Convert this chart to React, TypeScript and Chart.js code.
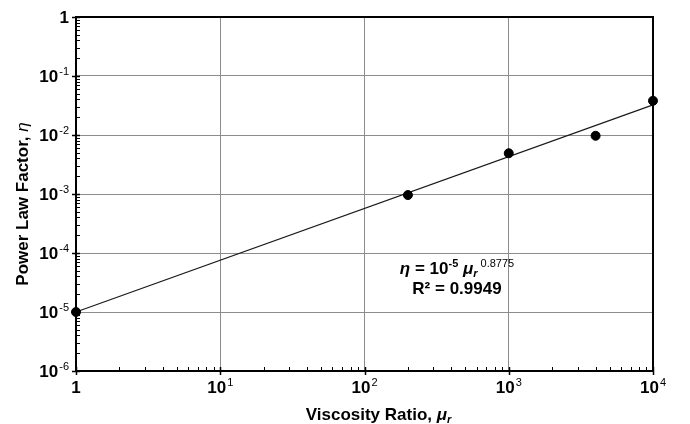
import { useEffect, useRef } from "react";
import { Chart, registerables } from "chart.js";

Chart.register(...registerables);

// Measured points: viscosity ratio vs. power-law factor
const viscosityRatio = [1, 200, 1000, 4000, 10000];
const powerLawFactor = [1e-5, 9.6e-4, 4.9e-3, 9.7e-3, 3.8e-2];

// Power-law fit  eta = a * mu_r ^ b
const fitCoefficient = 1e-5;
const fitExponent = 0.8775;
const fitR2 = "0.9949";
const fitRange = [1, 10000];

// Decade ticks on each log axis
const xDecades = [1, 10, 100, 1000, 10000];
const yDecades = [1e-6, 1e-5, 1e-4, 1e-3, 1e-2, 1e-1, 1];

const FONT = '"Liberation Sans", Arial, Helvetica, sans-serif';

// Draw "10" with a raised exponent; align: 'right' or 'center'
function drawPower(
  ctx: CanvasRenderingContext2D,
  value: number,
  x: number,
  y: number,
  align: "right" | "center"
) {
  const exp = Math.round(Math.log10(value));
  ctx.textBaseline = "alphabetic";
  ctx.textAlign = "left";
  const base = exp === 0 ? "1" : "10";
  const sup = exp === 0 ? "" : String(exp);
  ctx.font = `bold 17px ${FONT}`;
  const wb = ctx.measureText(base).width;
  ctx.font = `11px ${FONT}`;
  const ws = sup ? ctx.measureText(sup).width + 1 : 0;
  const total = wb + ws;
  const left = align === "right" ? x - total : x - total / 2;
  ctx.font = `bold 17px ${FONT}`;
  ctx.fillText(base, left, y);
  if (sup) {
    ctx.font = `11px ${FONT}`;
    ctx.fillText(sup, left + wb + 1, y - 7);
  }
}

const decorations = {
  id: "logDecorations",
  // ticks and frame sit beneath the data marks
  beforeDatasetsDraw(chart: any) {
    const ctx: CanvasRenderingContext2D = chart.ctx;
    const xs = chart.scales.x;
    const ys = chart.scales.y;
    const { left, right, top, bottom } = chart.chartArea;
    ctx.save();
    ctx.strokeStyle = "#000";

    ctx.lineWidth = 1;
    ctx.beginPath();
    for (let i = 0; i < xDecades.length - 1; i++) {
      for (let m = 2; m <= 9; m++) {
        const px = Math.round(xs.getPixelForValue(xDecades[i] * m)) + 0.5;
        ctx.moveTo(px, bottom);
        ctx.lineTo(px, bottom - 4);
      }
    }
    for (let i = 0; i < yDecades.length - 1; i++) {
      for (let m = 2; m <= 9; m++) {
        const py = Math.round(ys.getPixelForValue(yDecades[i] * m)) + 0.5;
        ctx.moveTo(left, py);
        ctx.lineTo(left + 4, py);
      }
    }
    ctx.stroke();

    ctx.lineWidth = 1.5;
    ctx.beginPath();
    xDecades.forEach((v) => {
      const px = Math.round(xs.getPixelForValue(v)) + 0.5;
      ctx.moveTo(px, bottom - 4);
      ctx.lineTo(px, bottom + 4);
    });
    yDecades.forEach((v) => {
      const py = Math.round(ys.getPixelForValue(v)) + 0.5;
      ctx.moveTo(left - 4, py);
      ctx.lineTo(left + 4, py);
    });
    ctx.stroke();

    ctx.lineWidth = 2;
    ctx.strokeRect(left, top, right - left, bottom - top);
    ctx.restore();
  },
  afterDraw(chart: any) {
    const ctx: CanvasRenderingContext2D = chart.ctx;
    const xs = chart.scales.x;
    const ys = chart.scales.y;
    const { left, right, bottom } = chart.chartArea;
    ctx.save();
    ctx.fillStyle = "#000";

    // tick labels
    yDecades.forEach((v) => {
      const py = ys.getPixelForValue(v);
      drawPower(ctx, v, left - 7, py + 6, "right");
    });
    xDecades.forEach((v) => {
      const px = xs.getPixelForValue(v);
      drawPower(ctx, v, px, bottom + 22, "center");
    });

    // x-axis title: Viscosity Ratio, mu_r
    {
      const cx = (left + right) / 2 + 14;
      const by = 420;
      ctx.textAlign = "left";
      ctx.textBaseline = "alphabetic";
      const t1 = "Viscosity Ratio, ";
      ctx.font = `bold 17px ${FONT}`;
      const w1 = ctx.measureText(t1).width;
      ctx.font = `italic bold 17px ${FONT}`;
      const w2 = ctx.measureText("\u03bc").width;
      ctx.font = `italic bold 11px ${FONT}`;
      const w3 = ctx.measureText("r").width;
      let x0 = cx - (w1 + w2 + w3) / 2;
      ctx.font = `bold 17px ${FONT}`;
      ctx.fillText(t1, x0, by);
      x0 += w1;
      ctx.font = `italic bold 17px ${FONT}`;
      ctx.fillText("\u03bc", x0, by);
      x0 += w2;
      ctx.font = `italic bold 11px ${FONT}`;
      ctx.fillText("r", x0, by + 3);
    }

    // y-axis title: Power Law Factor, eta
    {
      ctx.save();
      ctx.translate(28, 204);
      ctx.rotate(-Math.PI / 2);
      ctx.textAlign = "left";
      ctx.textBaseline = "alphabetic";
      const t1 = "Power Law Factor, ";
      ctx.font = `bold 17px ${FONT}`;
      const w1 = ctx.measureText(t1).width;
      ctx.font = `italic 17px ${FONT}`;
      const w2 = ctx.measureText("\u03b7").width;
      let x0 = -(w1 + w2) / 2;
      ctx.font = `bold 17px ${FONT}`;
      ctx.fillText(t1, x0, 0);
      x0 += w1;
      ctx.font = `italic 17px ${FONT}`;
      ctx.fillText("\u03b7", x0, 0);
      ctx.restore();
    }

    // fit equation and R^2
    {
      const cx = 457;
      const y1 = 274;
      const parts: [string, string, number][] = [
        ["\u03b7", `italic bold 17px ${FONT}`, 0],
        [" = 10", `bold 17px ${FONT}`, 0],
        [String(Math.round(Math.log10(fitCoefficient))), `bold 11px ${FONT}`, -7],
        [" ", `bold 17px ${FONT}`, 0],
        ["\u03bc", `italic bold 17px ${FONT}`, 0],
        ["r", `italic bold 11px ${FONT}`, 3],
        [" " + fitExponent.toFixed(4), `11px ${FONT}`, -7],
      ];
      ctx.textAlign = "left";
      ctx.textBaseline = "alphabetic";
      let total = 0;
      const widths = parts.map(([t, f]) => {
        ctx.font = f;
        const w = ctx.measureText(t).width;
        total += w;
        return w;
      });
      let x0 = cx - total / 2;
      parts.forEach(([t, f, dy], i) => {
        ctx.font = f;
        ctx.fillText(t, x0, y1 + dy);
        x0 += widths[i];
      });
      ctx.font = `bold 17px ${FONT}`;
      ctx.textAlign = "center";
      ctx.fillText(`R\u00b2 = ${fitR2}`, cx, 294);
    }

    ctx.restore();
  },
};

export default function App() {
  const canvasRef = useRef<HTMLCanvasElement | null>(null);

  useEffect(() => {
    const canvas = canvasRef.current;
    if (!canvas) return;

    const fitLine = fitRange.map((x) => ({
      x,
      y: fitCoefficient * Math.pow(x, fitExponent),
    }));
    const points = viscosityRatio.map((x, i) => ({ x, y: powerLawFactor[i] }));

    const chart = new Chart(canvas, {
      type: "scatter",
      data: {
        datasets: [
          {
            label: "Power-law fit",
            data: fitLine,
            showLine: true,
            borderColor: "#1a1a1a",
            borderWidth: 1.2,
            pointRadius: 0,
            order: 2,
            clip: false,
          },
          {
            label: "Measured",
            data: points,
            backgroundColor: "#000",
            borderColor: "#000",
            pointRadius: 4.5,
            pointHoverRadius: 4.5,
            order: 1,
            clip: false,
          },
        ],
      },
      options: {
        animation: false,
        responsive: true,
        maintainAspectRatio: false,
        layout: { padding: { top: 17, right: 37, left: 0, bottom: 0 } },
        plugins: {
          legend: { display: false },
          tooltip: { enabled: false },
        },
        scales: {
          x: {
            type: "logarithmic",
            min: 1,
            max: 10000,
            afterBuildTicks: (s: any) => {
              s.ticks = xDecades.map((v) => ({ value: v }));
            },
            afterFit: (s: any) => {
              s.height = 53;
            },
            ticks: { display: false },
            grid: { color: "#8c8c8c", lineWidth: 1, drawTicks: false },
            border: { color: "#000", width: 2 },
          },
          y: {
            type: "logarithmic",
            min: 1e-6,
            max: 1,
            afterBuildTicks: (s: any) => {
              s.ticks = yDecades.map((v) => ({ value: v }));
            },
            afterFit: (s: any) => {
              s.width = 76;
            },
            ticks: { display: false },
            grid: { color: "#8c8c8c", lineWidth: 1, drawTicks: false },
            border: { color: "#000", width: 2 },
          },
        },
      },
      plugins: [decorations],
    });

    return () => chart.destroy();
  }, []);

  return (
    <div
      style={{
        position: "fixed",
        left: 0,
        top: 0,
        width: 690,
        height: 424,
        background: "#fff",
      }}
    >
      <canvas ref={canvasRef} />
    </div>
  );
}
